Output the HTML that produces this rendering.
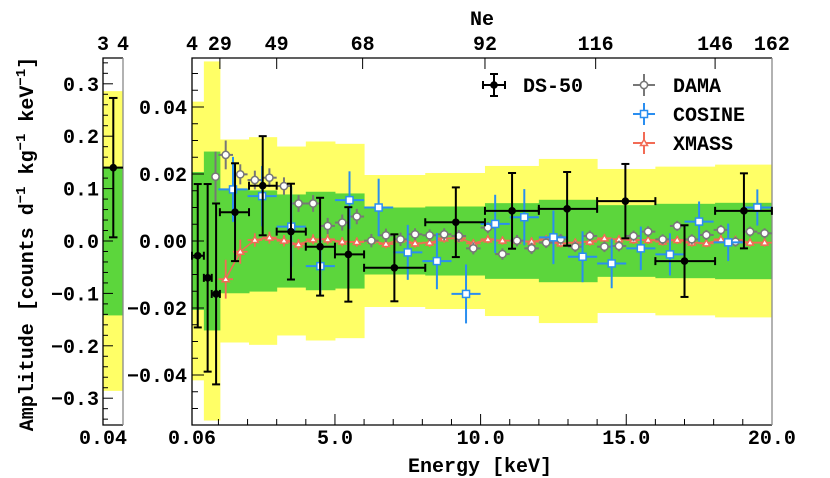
<!DOCTYPE html>
<html><head><meta charset="utf-8"><style>
html,body{margin:0;padding:0;background:#fff;}
svg{display:block;}
text{font-family:"Liberation Mono",monospace;font-weight:bold;fill:#000;}
</style></head><body>
<svg id="chart" width="830" height="478" viewBox="0 0 830 478" xmlns="http://www.w3.org/2000/svg">
<g id="bands"></g>
<g id="axes"></g>
<g id="series"></g>
<g id="legend"></g>
</svg>
<script>
// ---- data ----
const binEdges = [0.09,0.5,1.05,2.05,3.0,4.0,5.0,6.0,8.1,10.15,12.0,14.0,16.0,18.05,20.0];
const greenBand = [0.0206,0.0267,0.0156,0.0151,0.0139,0.0147,0.0142,0.0100,0.0103,0.0113,0.0123,0.0107,0.0111,0.0114];
const yellowBand = [0.0416,0.0536,0.0303,0.0310,0.0282,0.0297,0.0290,0.0197,0.0203,0.0224,0.0245,0.0215,0.0222,0.0228];
const ds50X = [0.29,0.63,0.92,1.57,2.52,3.49,4.49,5.46,7.04,9.15,11.08,12.97,14.97,17.0,19.04];
const ds50Lo = [0.09,0.5,0.77,1.05,2.05,3.0,4.0,5.0,6.0,8.1,10.15,12.0,14.0,16.0,18.05];
const ds50Hi = [0.5,0.77,1.05,2.05,3.0,4.0,5.0,6.0,8.1,10.15,12.0,14.0,16.0,18.05,20.0];
const ds50Y = [-0.0044,-0.011,-0.0158,0.0086,0.0165,0.0028,-0.0017,-0.004,-0.008,0.0056,0.009,0.0096,0.0119,-0.006,0.009];
const ds50Err = [0.0214,0.028,0.027,0.0146,0.0148,0.0143,0.0146,0.0141,0.010,0.0104,0.0113,0.011,0.0111,0.0107,0.0112];
const damaX = [0.9,1.25,1.75,2.25,2.75,3.25,3.75,4.25,4.75,5.25,5.75,6.25,6.75,7.25,7.75,8.25,8.75,9.25,9.75,10.25,10.75,11.25,11.75,12.25,12.75,13.25,13.75,14.25,14.75,15.25,15.75,16.25,16.75,17.25,17.75,18.25,18.75,19.25,19.75];
const damaY = [0.0192,0.0257,0.0199,0.0182,0.0189,0.0164,0.0112,0.0112,0.0045,0.0055,0.0073,0.0001,0.0017,0.0005,0.002,0.0017,0.002,0.0015,-0.0022,0.004,-0.0039,0.0001,-0.0022,-0.0005,0.0005,-0.0017,0.0015,-0.0017,-0.0015,0.0015,0.0028,0.0005,0.0045,0.0005,0.0018,0.0033,-0.0002,0.0028,0.0023];
const damaErr = [0.0075,0.0043,0.003,0.0028,0.0028,0.0026,0.0025,0.0025,0.0024,0.0024,0.0023,0.002,0.002,0.002,0.0018,0.0018,0.0018,0.0018,0.0018,0.0017,0.0017,0.0017,0.0017,0.0016,0.0016,0.0016,0.0016,0.0016,0.0016,0.0016,0.0016,0.0015,0.0015,0.0015,0.0015,0.0015,0.0015,0.0015,0.0015];
const cosineX = [1.5,2.5,3.5,4.5,5.5,6.5,7.5,8.5,9.5,10.5,11.5,12.5,13.5,14.5,15.5,16.5,17.5,18.5,19.5];
const cosineY = [0.0154,0.0134,0.0043,-0.0075,0.0122,0.010,-0.0034,-0.006,-0.0158,0.0051,0.0071,0.0011,-0.0047,-0.0067,-0.0022,-0.004,0.0058,-0.0004,0.010];
const cosineErr = [0.0097,0.009,0.012,0.0087,0.0086,0.0086,0.0082,0.0084,0.0088,0.0087,0.0084,0.008,0.0076,0.0074,0.0065,0.0063,0.006,0.0056,0.0054];
const xmassX = [1.25,1.75,2.25,2.75,3.25,3.75,4.25,4.75,5.25,5.75,6.25,6.75,7.25,7.75,8.25,8.75,9.25,9.75,10.25,10.75,11.25,11.75,12.25,12.75,13.25,13.75,14.25,14.75,15.25,15.75,16.25,16.75,17.25,17.75,18.25,18.75,19.25,19.75];
const xmassY = [-0.0114,-0.0032,0.0003,0.001,0.0001,-0.001,0.0005,0.0005,-0.0002,-0.0003,0.0001,-0.0009,0.0005,-0.0007,-0.0005,0.0008,0.0008,-0.0007,0.0005,0.0001,0.0001,-0.0002,0.0005,-0.0007,-0.0005,-0.0002,0.0008,0.0005,0.0003,0.0003,-0.0002,0.0003,-0.0005,-0.0007,0.0005,0.0003,-0.0005,-0.0005];
const xmassErr = [0.0058,0.0036,0.002,0.0018,0.0017,0.0016,0.0015,0.0015,0.0014,0.0014,0.0014,0.0013,0.0013,0.0013,0.0013,0.0013,0.0013,0.0012,0.0012,0.0012,0.0012,0.0012,0.0012,0.0012,0.0012,0.0012,0.0012,0.0012,0.0012,0.0012,0.0012,0.0012,0.0012,0.0012,0.0012,0.0012,0.0012,0.0012];
const lowY = 0.14, lowErr = 0.133, lowGreen = 0.142, lowYellow = 0.286;
const mainYTicks = [-0.04,-0.02,0,0.02,0.04];
const mainYLabels = ["\u22120.04","\u22120.02","0.00","0.02","0.04"];
const lowYTicks = [-0.3,-0.2,-0.1,0,0.1,0.2,0.3];
const lowYLabels = ["\u22120.3","\u22120.2","\u22120.1","0.0","0.1","0.2","0.3"];
const xTicks = [5,10,15,20];
const xLabels = ["5.0","10.0","15.0","20.0"];
const neX = [0.09,1.05,3.0,5.95,10.15,13.95,18.05,20.0];
const neLabels = ["4","29","49","68","92","116","146","162"];

// ---- scales ----
const PT=58, PB=425, ML=192, MR=772, LL=103, LR=123;
const xs = k => 189.3 + k*29.13;
const ys = v => 241 - v*3350;
const yl = v => 241 - v*524;
const NS="http://www.w3.org/2000/svg";
function mk(parent, tag, attrs){const e=document.createElementNS(NS,tag);for(const k in attrs)e.setAttribute(k,attrs[k]);parent.appendChild(e);return e;}
const gB=document.getElementById('bands'), gA=document.getElementById('axes'), gS=document.getElementById('series'), gL=document.getElementById('legend');

// low-energy panel bands
let r;
r=mk(gB,'rect',{x:LL,y:yl(lowYellow),width:LR-LL,height:yl(-lowYellow)-yl(lowYellow),fill:'#ffff66'});


r=mk(gB,'rect',{x:LL,y:yl(lowGreen),width:LR-LL,height:yl(-lowGreen)-yl(lowGreen),fill:'#5cd63c'});


// main bands
for(let i=0;i<greenBand.length;i++){
  const x0=Math.max(xs(binEdges[i]),ML), x1=xs(binEdges[i+1]);
  r=mk(gB,'rect',{x:x0,y:ys(yellowBand[i]),width:x1-x0+0.5,height:ys(-yellowBand[i])-ys(yellowBand[i]),fill:'#ffff66'});
  
  
}
for(let i=0;i<greenBand.length;i++){
  const x0=Math.max(xs(binEdges[i]),ML), x1=xs(binEdges[i+1]);
  r=mk(gB,'rect',{x:x0,y:ys(greenBand[i]),width:x1-x0+0.5,height:ys(-greenBand[i])-ys(greenBand[i]),fill:'#5cd63c'});
  
  
}

// frames
r=mk(gA,'path',{d:`M${LR},${PT} H${LL} V${PB} H${LR}`,fill:'none',stroke:'#000','stroke-width':1.3});


mk(gA,'line',{x1:LR,y1:PT,x2:LR,y2:PB,stroke:'#888','stroke-width':1.3});
r=mk(gA,'path',{d:`M${MR},${PT} H${ML} V${PB} H${MR}`,fill:'none',stroke:'#000','stroke-width':1.3});


mk(gA,'line',{x1:MR,y1:PT,x2:MR,y2:PB,stroke:'#888','stroke-width':1.3});

function txt(parent,x,y,s,anchor,size,name){const t=mk(parent,'text',{x:x,y:y,'text-anchor':anchor,'font-size':size});t.textContent=s;return t;}

// main y ticks
for(let v=-0.055;v<=0.055;v+=0.005){
  const vv=Math.round(v*1000)/1000; const y=ys(vv); if(y<PT||y>PB) continue;
  const major=Math.abs(Math.round(vv*1000)%20)===0;
  mk(gA,'line',{x1:ML,y1:y,x2:ML+(major?12:6),y2:y,stroke:'#000','stroke-width':1});
}
mainYTicks.forEach((v,i)=>txt(gA,187,ys(v)+7,mainYLabels[i],'end',20,'main-y-tick-label'));
// low y ticks
for(let v=-0.34;v<=0.34;v+=0.02){
  const vv=Math.round(v*100)/100; const y=yl(vv); if(y<PT||y>PB) continue;
  const major=Math.abs(Math.round(vv*100)%10)===0;
  mk(gA,'line',{x1:LL,y1:y,x2:LL+(major?10:5),y2:y,stroke:'#000','stroke-width':1});
}
lowYTicks.forEach((v,i)=>txt(gA,99,yl(v)+7,lowYLabels[i],'end',20,'low-y-tick-label'));
// x ticks
for(let k=1;k<20;k++){const x=xs(k);const major=k%5===0;mk(gA,'line',{x1:x,y1:PB,x2:x,y2:PB-(major?11:6),stroke:'#000','stroke-width':1});}
xTicks.forEach((k,i)=>txt(gA,xs(k),444,xLabels[i],'middle',20,'x-tick-label'));
txt(gA,ML,444,"0.06",'middle',20,'x-tick-label');
txt(gA,LL,444,"0.04",'middle',20,'low-x-tick-label');
// top Ne axis
neX.forEach((k,i)=>{const x=Math.max(xs(k),ML);if(i>0&&i<neX.length-1)mk(gA,'line',{x1:x,y1:PT,x2:x,y2:PT+11,stroke:'#000','stroke-width':1});txt(gA,x,50,neLabels[i],'middle',20,'ne-tick-label');});
txt(gA,LL,50,"3",'middle',20,'low-ne-tick-label');
txt(gA,LR,50,"4",'middle',20,'low-ne-tick-label');
txt(gA,482,25,"Ne",'middle',20,'top-axis-title');
txt(gA,480,472,"Energy [keV]",'middle',20,'x-axis-title');
// y title
const yt=mk(gA,'text',{x:0,y:0,'text-anchor':'middle','font-size':20,transform:'translate(33,244) rotate(-90)'});


yt.innerHTML='Amplitude [counts d<tspan dy="-8" font-size="14">\u22121</tspan><tspan dy="8"> kg</tspan><tspan dy="-8" font-size="14">\u22121</tspan><tspan dy="8"> keV</tspan><tspan dy="-8" font-size="14">\u22121</tspan><tspan dy="8">]</tspan>';

// series helpers
function errbar(g,x,y,xl,xh,yt,yb,col,w,cap){
  mk(g,'line',{x1:xl,y1:y,x2:xh,y2:y,stroke:col,'stroke-width':w});
  mk(g,'line',{x1:x,y1:yt,x2:x,y2:yb,stroke:col,'stroke-width':w});
  if(cap){
    mk(g,'line',{x1:x-4,y1:yt,x2:x+4,y2:yt,stroke:col,'stroke-width':w});
    mk(g,'line',{x1:x-4,y1:yb,x2:x+4,y2:yb,stroke:col,'stroke-width':w});
    mk(g,'line',{x1:xl,y1:y-4,x2:xl,y2:y+4,stroke:col,'stroke-width':w});
    mk(g,'line',{x1:xh,y1:y-4,x2:xh,y2:y+4,stroke:col,'stroke-width':w});
  }
}
// XMASS
const gX=mk(gS,'g',{});


mk(gX,'polyline',{points:xmassX.map((k,i)=>xs(k)+','+ys(xmassY[i])).join(' '),fill:'none',stroke:'#f26b55','stroke-width':1.5});
xmassX.forEach((k,i)=>{const x=xs(k),y=ys(xmassY[i]);
  const g=mk(gX,'g',{});
  errbar(g,x,y,xs(k-0.25),xs(k+0.25),ys(xmassY[i]+xmassErr[i]),ys(xmassY[i]-xmassErr[i]),'#f26b55',1.8,false);
  mk(g,'path',{d:`M${x},${y-3.5} L${x+3.5},${y+2.5} L${x-3.5},${y+2.5} Z`,fill:'#fff',stroke:'#f26b55','stroke-width':1.5});
});
// DAMA
const gD=mk(gS,'g',{});


damaX.forEach((k,i)=>{const x=xs(k),y=ys(damaY[i]);const dx=i===0?0:0.25;
  const g=mk(gD,'g',{});
  errbar(g,x,y,xs(k-dx),xs(k+dx),ys(damaY[i]+damaErr[i]),ys(damaY[i]-damaErr[i]),'#777',2,false);
  mk(g,'circle',{cx:x,cy:y,r:3.6,fill:'#fff',stroke:'#777','stroke-width':1.5});
});
// COSINE
const gC=mk(gS,'g',{});


cosineX.forEach((k,i)=>{const x=xs(k),y=ys(cosineY[i]);
  const g=mk(gC,'g',{});
  errbar(g,x,y,xs(k-0.5),xs(k+0.5),ys(cosineY[i]+cosineErr[i]),ys(cosineY[i]-cosineErr[i]),'#2a8ef0',2,false);
  mk(g,'rect',{x:x-3.5,y:y-3.5,width:7,height:7,fill:'#fff',stroke:'#2a8ef0','stroke-width':1.5});
});
// DS-50
const gK=mk(gS,'g',{});


ds50X.forEach((k,i)=>{const x=xs(k),y=ys(ds50Y[i]);
  const g=mk(gK,'g',{});
  errbar(g,x,y,Math.max(xs(ds50Lo[i]),ML),xs(ds50Hi[i]),ys(ds50Y[i]+ds50Err[i]),ys(ds50Y[i]-ds50Err[i]),'#000',2,true);
  mk(g,'circle',{cx:x,cy:y,r:3.8,fill:'#000'});
});
// low panel DS-50 point
const gLow=mk(gS,'g',{});


errbar(gLow,113.3,yl(lowY),LL,LR,yl(lowY+lowErr),yl(lowY-lowErr),'#000',2,false);
mk(gLow,'line',{x1:109,y1:yl(lowY+lowErr),x2:117.5,y2:yl(lowY+lowErr),stroke:'#000','stroke-width':2});
mk(gLow,'line',{x1:109,y1:yl(lowY-lowErr),x2:117.5,y2:yl(lowY-lowErr),stroke:'#000','stroke-width':2});
mk(gLow,'circle',{cx:113.3,cy:yl(lowY),r:3.8,fill:'#000'});

// legend
function legEntry(x,y,label,col,kind,name){
  const g=mk(gL,'g',{});
  
  
  mk(g,'line',{x1:x-11,y1:y,x2:x+11,y2:y,stroke:col,'stroke-width':2});
  mk(g,'line',{x1:x,y1:y-11,x2:x,y2:y+11,stroke:col,'stroke-width':2});
  if(kind==='ds'){['M'+(x-11)+','+(y-4)+'V'+(y+4),'M'+(x+11)+','+(y-4)+'V'+(y+4),'M'+(x-4)+','+(y-11)+'H'+(x+4),'M'+(x-4)+','+(y+11)+'H'+(x+4)].forEach(d=>mk(g,'path',{d:d,stroke:col,'stroke-width':2,fill:'none'}));mk(g,'circle',{cx:x,cy:y,r:3.8,fill:'#000'});}
  if(kind==='dama')mk(g,'circle',{cx:x,cy:y,r:3.6,fill:'#fff',stroke:col,'stroke-width':1.5});
  if(kind==='cos')mk(g,'rect',{x:x-3.5,y:y-3.5,width:7,height:7,fill:'#fff',stroke:col,'stroke-width':1.5});
  if(kind==='xm')mk(g,'path',{d:`M${x},${y-3.5} L${x+3.5},${y+2.5} L${x-3.5},${y+2.5} Z`,fill:'#fff',stroke:col,'stroke-width':1.5});
  const t=mk(g,'text',{x:x+29,y:y+7,'font-size':20});t.textContent=label;
  
  
}
legEntry(494,85,'DS-50','#000','ds','legend-ds50');
legEntry(644,85,'DAMA','#777','dama','legend-dama');
legEntry(644,114,'COSINE','#2a8ef0','cos','legend-cosine');
legEntry(644,143,'XMASS','#f26b55','xm','legend-xmass');
</script>
</body></html>
